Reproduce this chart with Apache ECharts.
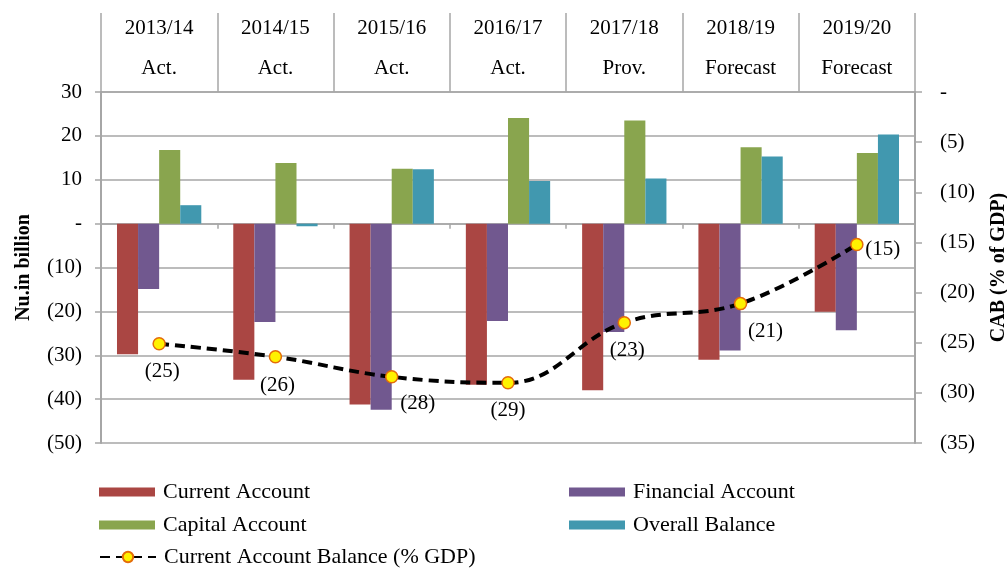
<!DOCTYPE html>
<html>
<head>
<meta charset="utf-8">
<script src="https://cdn.jsdelivr.net/npm/echarts@6/dist/echarts.min.js"></script>
<style>
  html, body { margin: 0; padding: 0; background: #fff; }
  #main { width: 1007px; height: 570px; }
</style>
</head>
<body>
<div id="main"></div>
<script>
// data
var years = ["2013/14", "2014/15", "2015/16", "2016/17", "2017/18", "2018/19", "2019/20"];
var phase = ["Act.", "Act.", "Act.", "Act.", "Prov.", "Forecast", "Forecast"];
var currentAccount = [-29.8, -35.6, -41.2, -36.7, -38.0, -31.0, -20.1];
var financialAccount = [-14.9, -22.4, -42.4, -22.2, -24.7, -28.9, -24.3];
var capitalAccount = [16.8, 13.8, 12.5, 24.1, 23.5, 17.4, 16.1];
var overallBalance = [4.2, -0.6, 12.4, 9.7, 10.3, 15.3, 20.3];
var cabGdp = [-25.1, -26.4, -28.4, -29.0, -23.0, -21.1, -15.2];

var font = "Liberation Serif";
var gray = "#a6a6a6";

function paren(v) {
  if (v === 0) return "-";
  if (v < 0) return "(" + (-v) + ")";
  return String(v);
}

// where each CAB label sits relative to its point
var cabLabelOffset = [[3, 28], [2, 29], [26, 27], [0, 28], [3, 28], [25, 28], [26, 5]];

var myChart = echarts.init(document.getElementById("main"));

var headerLabels = years.map(function (y, i) { return y + "\n" + phase[i]; });

function barSeries(name, data, color) {
  return {
    name: name,
    type: "bar",
    xAxisIndex: 0,
    yAxisIndex: 0,
    data: data,
    barGap: "0%",
    barCategoryGap: "27.5%",
    itemStyle: { color: color },
    emphasis: { disabled: true }
  };
}

// one legend per entry so the two columns line up
function legendItem(name, left, top, isLine) {
  return {
    left: left,
    top: top,
    padding: 0,
    itemWidth: 56,
    itemHeight: isLine ? 13 : 9,
    icon: isLine ? undefined : "rect",
    textStyle: { fontFamily: font, fontSize: 22, color: "#000", lineHeight: 22, padding: [0, 0, 0, 3] },
    data: [name]
  };
}

var option = {
  animation: false,
  textStyle: { fontFamily: font },
  grid: { left: 101, right: 92, top: 92, bottom: 127, containLabel: false, outerBoundsMode: "none" },
  legend: [
    legendItem("Current Account", 99, 481),
    legendItem("Financial Account", 569, 481),
    legendItem("Capital Account", 99, 514),
    legendItem("Overall Balance", 569, 514),
    legendItem("Current Account Balance (% GDP)", 99, 546, true)
  ],
  xAxis: [
    {
      type: "category",
      position: "top",
      data: headerLabels,
      boundaryGap: true,
      axisLine: { onZero: false, lineStyle: { color: gray, width: 1.5 } },
      axisTick: { show: true, interval: 0, length: 79, lineStyle: { color: gray, width: 1.5 } },
      axisLabel: {
        interval: 0,
        margin: 4,
        fontFamily: font,
        fontSize: 21,
        lineHeight: 40,
        color: "#000"
      },
      splitLine: { show: false }
    },
    {
      type: "category",
      position: "bottom",
      data: years,
      boundaryGap: true,
      axisLine: { onZero: true, onZeroAxisIndex: 0, lineStyle: { color: gray, width: 1.5 } },
      axisTick: { show: true, interval: 0, length: 5, lineStyle: { color: gray, width: 1.5 } },
      axisLabel: { show: false },
      splitLine: { show: false }
    }
  ],
  yAxis: [
    {
      type: "value",
      position: "left",
      min: -50,
      max: 30,
      interval: 10,
      name: "Nu.in billion",
      nameLocation: "middle",
      nameRotate: 90,
      nameGap: 67,
      nameTextStyle: { fontFamily: font, fontSize: 20, fontWeight: "bold", color: "#000" },
      axisLine: { show: true, lineStyle: { color: gray, width: 2 } },
      axisTick: { show: true, length: 6, lineStyle: { color: gray, width: 1.5 } },
      axisLabel: { formatter: paren, margin: 19, fontFamily: font, fontSize: 21, color: "#000" },
      splitLine: { show: true, lineStyle: { color: gray, width: 1.5 } }
    },
    {
      type: "value",
      position: "right",
      min: -35,
      max: 0,
      interval: 5,
      name: "CAB (% of GDP)",
      nameLocation: "middle",
      nameRotate: 90,
      nameGap: 74,
      nameTextStyle: { fontFamily: font, fontSize: 20, fontWeight: "bold", color: "#000" },
      axisLine: { show: true, lineStyle: { color: gray, width: 2 } },
      axisTick: { show: true, length: 7, lineStyle: { color: gray, width: 1.5 } },
      axisLabel: { formatter: paren, margin: 25, fontFamily: font, fontSize: 21, color: "#000" },
      splitLine: { show: false }
    }
  ],
  series: [
    barSeries("Current Account", currentAccount, "#AA4643"),
    barSeries("Financial Account", financialAccount, "#71588F"),
    barSeries("Capital Account", capitalAccount, "#89A54E"),
    barSeries("Overall Balance", overallBalance, "#4198AF"),
    {
      name: "Current Account Balance (% GDP)",
      type: "line",
      xAxisIndex: 0,
      yAxisIndex: 1,
      z: 5,
      smooth: 0.4,
      symbol: "circle",
      symbolSize: 12,
      itemStyle: { color: "#FFF200", borderColor: "#E46C0A", borderWidth: 1.5 },
      lineStyle: { color: "#000", width: 4, type: [10, 6] },
      emphasis: { disabled: true },
      data: cabGdp.map(function (v, i) {
        return {
          value: v,
          label: {
            show: true,
            position: "inside",
            offset: cabLabelOffset[i],
            formatter: function (p) { return "(" + Math.round(-p.value) + ")"; },
            fontFamily: font,
            fontSize: 21,
            color: "#000"
          }
        };
      })
    }
  ]
};

myChart.setOption(option);
window.addEventListener("resize", function () { myChart.resize(); });
</script>
</body>
</html>
